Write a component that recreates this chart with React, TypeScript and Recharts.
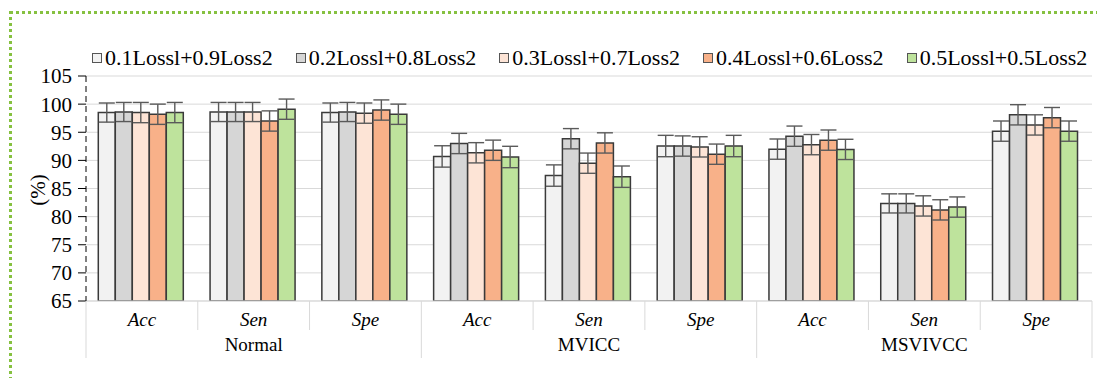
import React from 'react';
import { BarChart, Bar, XAxis, YAxis, CartesianGrid, ErrorBar } from 'recharts';

const groups = ['Normal', 'MVICC', 'MSVIVCC'];
const metrics = ['Acc', 'Sen', 'Spe'];
const yTicks = [65, 70, 75, 80, 85, 90, 95, 100, 105];

const seriesNames = [
  '0.1Lossl+0.9Loss2',
  '0.2Lossl+0.8Loss2',
  '0.3Lossl+0.7Loss2',
  '0.4Lossl+0.6Loss2',
  '0.5Lossl+0.5Loss2',
];
const seriesColors = ['#f2f2f2', '#d6d6d6', '#fde4d6', '#f8b189', '#bee39c'];

// values per series: Normal Acc/Sen/Spe, MVICC Acc/Sen/Spe, MSVIVCC Acc/Sen/Spe
const s1 = [98.5, 98.6, 98.5, 90.7, 87.3, 92.55, 92.0, 82.35, 95.2];
const s2 = [98.6, 98.6, 98.6, 93.0, 93.85, 92.55, 94.3, 82.35, 98.1];
const s3 = [98.5, 98.6, 98.4, 91.35, 89.5, 92.4, 92.8, 81.9, 96.3];
const s4 = [98.2, 97.0, 98.95, 91.8, 93.1, 91.1, 93.6, 81.2, 97.6];
const s5 = [98.5, 99.1, 98.2, 90.6, 87.1, 92.55, 91.95, 81.7, 95.2];

const e1 = [1.7, 1.7, 1.7, 1.9, 1.9, 1.9, 1.8, 1.7, 1.8];
const e2 = [1.7, 1.7, 1.7, 1.8, 1.8, 1.8, 1.8, 1.7, 1.8];
const e3 = [1.8, 1.7, 1.8, 1.8, 1.8, 1.8, 1.8, 1.8, 1.8];
const e4 = [1.8, 1.8, 1.8, 1.8, 1.8, 1.8, 1.8, 1.8, 1.8];
const e5 = [1.8, 1.8, 1.8, 1.9, 1.9, 1.9, 1.8, 1.8, 1.8];

const values = [s1, s2, s3, s4, s5];
const errors = [e1, e2, e3, e4, e5];

const data = groups.flatMap((g, gi) =>
  metrics.map((m, mi) => {
    const i = gi * 3 + mi;
    const row: Record<string, any> = { key: `${g}-${m}`, group: g, metric: m };
    values.forEach((s, si) => {
      row[`v${si}`] = s[i];
      row[`e${si}`] = errors[si][i];
    });
    return row;
  })
);

const W = 1097;
const H = 370;
const Y_W = 78;
const MARGIN = { top: 68, right: 13, bottom: 20, left: 0 };
const BW = (W - MARGIN.left - MARGIN.right - Y_W) / data.length;
const FONT = "'Liberation Serif', 'DejaVu Serif', serif";
const SEP = '#d9d9d9';

const CatTick = (props: any) => {
  const { x, y, index } = props;
  return (
    <g>
      <text x={x} y={y + 18} dy="0.35em" textAnchor="middle" style={{ fontFamily: FONT }}
        fontStyle="italic" fontSize={19} fill="#000">
        {data[index].metric}
      </text>
      <line x1={x - BW / 2} x2={x - BW / 2} y1={y} y2={y + 29} stroke={SEP} />
      {index === data.length - 1 && (
        <line x1={x + BW / 2} x2={x + BW / 2} y1={y} y2={y + 29} stroke={SEP} />
      )}
    </g>
  );
};

const GroupTick = (props: any) => {
  const { x, y, index } = props;
  return (
    <g>
      {index % 3 === 1 && (
        <text x={x} y={y + 14} dy="0.35em" textAnchor="middle" style={{ fontFamily: FONT }}
          fontSize={19} fill="#000">
          {data[index].group}
        </text>
      )}
      {index % 3 === 0 && (
        <line x1={x - BW / 2} x2={x - BW / 2} y1={y} y2={y + 28} stroke={SEP} />
      )}
      {index === data.length - 1 && (
        <line x1={x + BW / 2} x2={x + BW / 2} y1={y} y2={y + 28} stroke={SEP} />
      )}
    </g>
  );
};

const PercentLabel = () => (
  <text x={30} y={182} transform="rotate(-90 30 182)" textAnchor="middle"
    dominantBaseline="central" style={{ fontFamily: FONT }} fontSize={21} fill="#000">
    (%)
  </text>
);

export default function App() {
  return (
    <div style={{ position: 'relative', width: W, height: H, fontFamily: FONT }}>
      {/* dotted green frame */}
      <div
        style={{
          position: 'absolute',
          left: 1,
          top: 3,
          right: -8,
          bottom: -8,
          borderTop: '3px dotted #86c140',
          borderLeft: '3px dotted #86c140',
        }}
      />
      <div
        style={{
          position: 'absolute',
          left: 84,
          top: 37,
          display: 'flex',
          gap: 23,
          fontFamily: FONT,
          fontSize: 22,
          color: '#000',
          whiteSpace: 'nowrap',
        }}
      >
        {seriesNames.map((n, i) => (
          <div key={n} style={{ display: 'flex', alignItems: 'center' }}>
            <span
              style={{
                display: 'inline-block',
                width: 8,
                height: 8,
                background: seriesColors[i],
                border: '1px solid #555',
                marginRight: 3,
              }}
            />
            <span>{n}</span>
          </div>
        ))}
      </div>
      <BarChart width={W} height={H} data={data} margin={MARGIN} barCategoryGap="11%" barGap={0}>
        <CartesianGrid xAxisId="cat" vertical={false} stroke="#d9d9d9" />
        <XAxis
          xAxisId="cat"
          dataKey="key"
          interval={0}
          height={29}
          tickSize={0}
          tickMargin={0}
          tickLine={false}
          axisLine={{ stroke: SEP }}
          tick={<CatTick />}
        />
        <XAxis
          xAxisId="grp"
          dataKey="key"
          interval={0}
          height={28}
          tickSize={0}
          tickMargin={0}
          tickLine={false}
          axisLine={false}
          tick={<GroupTick />}
        />
        <YAxis
          width={Y_W}
          domain={[65, 105]}
          ticks={yTicks}
          interval={0}
          allowDataOverflow
          tickSize={8}
          tickMargin={6}
          axisLine={{ stroke: '#000', strokeDasharray: '6 4' }}
          tickLine={{ stroke: '#000' }}
          tick={{ fontFamily: FONT, fontSize: 21, fill: '#000' }}
          label={PercentLabel}
        />
        {values.map((_, si) => (
          <Bar
            key={si}
            xAxisId="cat"
            dataKey={`v${si}`}
            name={seriesNames[si]}
            fill={seriesColors[si]}
            stroke="#3a3a3a"
            strokeWidth={1.5}
            isAnimationActive={false}
          >
            <ErrorBar dataKey={`e${si}`} width={8} stroke="#5a5a5a" strokeWidth={1.4} direction="y" />
          </Bar>
        ))}
      </BarChart>
    </div>
  );
}
